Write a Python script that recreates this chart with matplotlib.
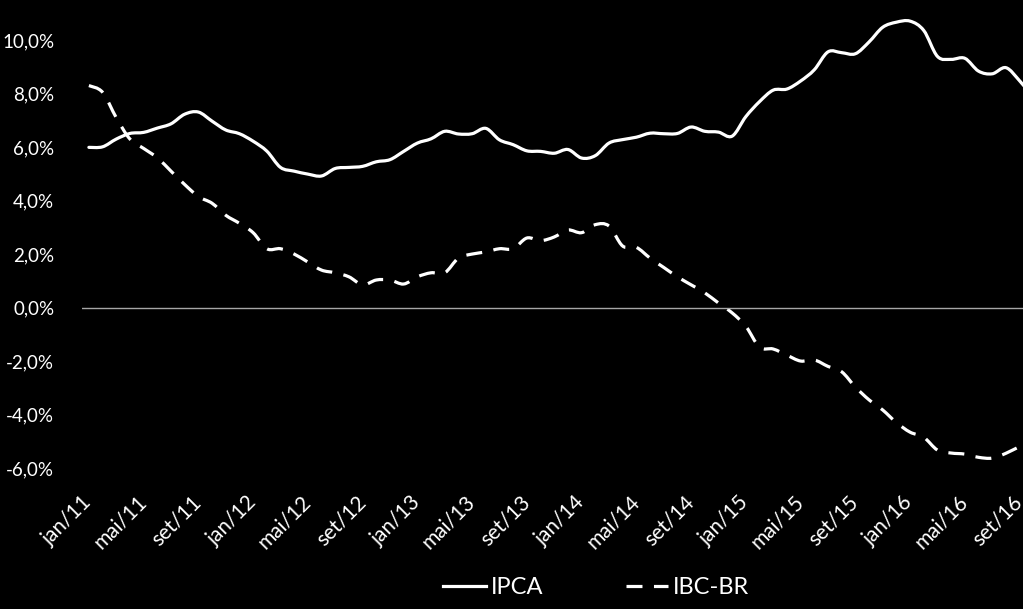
import numpy as np
import matplotlib.pyplot as plt
from matplotlib.path import Path
from matplotlib.patches import PathPatch
from matplotlib.lines import Line2D

# IPCA e IBC-BR, acumulado em 12 meses (%), jan/11 a out/16
meses = ['jan', 'fev', 'mar', 'abr', 'mai', 'jun', 'jul', 'ago', 'set', 'out', 'nov', 'dez']
datas = [f'{m}/{a}' for a in range(11, 17) for m in meses][:70]

ipca = [5.99, 6.01, 6.30, 6.51, 6.55, 6.71, 6.87, 7.23, 7.31, 6.97, 6.64, 6.50,
        6.22, 5.85, 5.24, 5.10, 4.99, 4.92, 5.20, 5.24, 5.28, 5.45, 5.53, 5.84,
        6.15, 6.31, 6.59, 6.49, 6.50, 6.70, 6.27, 6.09, 5.86, 5.84, 5.77, 5.91,
        5.59, 5.68, 6.15, 6.28, 6.37, 6.52, 6.50, 6.51, 6.75, 6.59, 6.56, 6.41,
        7.14, 7.70, 8.13, 8.17, 8.47, 8.89, 9.56, 9.53, 9.49, 9.93, 10.48, 10.67,
        10.71, 10.36, 9.39, 9.28, 9.32, 8.84, 8.74, 8.97, 8.48, 7.87]

ibc_br = [8.3, 8.05, 7.1, 6.3, 5.95, 5.6, 5.1, 4.6, 4.15, 3.9, 3.45, 3.15,
          2.8, 2.2, 2.2, 2.0, 1.7, 1.4, 1.3, 1.15, 0.85, 1.03, 1.03, 0.88,
          1.15, 1.3, 1.3, 1.85, 2.0, 2.08, 2.2, 2.2, 2.6, 2.5, 2.64, 2.9,
          2.8, 3.1, 3.05, 2.3, 2.25, 1.85, 1.5, 1.15, 0.85, 0.55, 0.17, -0.2,
          -0.7, -1.48, -1.55, -1.78, -2.0, -1.96, -2.2, -2.4, -2.97, -3.45, -3.83, -4.3,
          -4.66, -4.85, -5.33, -5.44, -5.48, -5.6, -5.63, -5.45, -5.2, -5.0]

plt.rcParams['font.family'] = ['Lato', 'DejaVu Sans']


def linha_suave(xs, ys):
    # curva suavizada (estilo Excel) passando pelos pontos
    p = np.column_stack([xs, ys]).astype(float)
    n = len(p)
    verts = [p[0]]
    codes = [Path.MOVETO]
    for i in range(n - 1):
        p0 = p[max(i - 1, 0)]
        p1 = p[i]
        p2 = p[i + 1]
        p3 = p[min(i + 2, n - 1)]
        c1 = p1 + (p2 - p0) / 6
        c2 = p2 - (p3 - p1) / 6
        verts += [c1, c2, p2]
        codes += [Path.CURVE4] * 3
    return Path(verts, codes)


x = np.arange(len(datas))

fig = plt.figure(figsize=(10.23, 6.09), dpi=100, facecolor='black')
ax = fig.add_axes([0.0802, 0.2315, 0.9198, 0.7685], facecolor='black')

ax.axhline(0, color='#a6a6a6', linewidth=1.0)
estilo_ibc = (0, (5, 3.6))
ax.add_patch(PathPatch(linha_suave(x, ipca), fill=False, edgecolor='white',
                       linewidth=2.3, capstyle='round'))
ax.add_patch(PathPatch(linha_suave(x, ibc_br), fill=False, edgecolor='white',
                       linewidth=2.3, linestyle=estilo_ibc))

ax.set_xlim(-0.5, 68.25)
ax.set_ylim(-6, 11.5)

ax.set_yticks(np.arange(-6, 11, 2))
ax.set_yticklabels([f'{v:.1f}%'.replace('.', ',') for v in np.arange(-6, 11, 2)])
ax.set_xticks(x[::4])
ax.set_xticklabels(datas[::4])

ax.tick_params(axis='y', colors='white', labelsize=13.5, length=0, pad=20)
ax.tick_params(axis='x', colors='white', labelsize=15, length=0, pad=22)
plt.setp(ax.get_xticklabels(), rotation=45, ha='right', va='center', rotation_mode='anchor')

for s in ax.spines.values():
    s.set_visible(False)

handles = [Line2D([], [], color='white', linewidth=2.3),
           Line2D([], [], color='white', linewidth=2.3, linestyle=estilo_ibc)]
leg = fig.legend(handles, ['IPCA', 'IBC-BR'], loc='center', bbox_to_anchor=(0.583, 0.035),
                 ncol=2, frameon=False, fontsize=17, handlelength=1.8,
                 columnspacing=3.5, handletextpad=0.2)
for t in leg.get_texts():
    t.set_color('white')

plt.savefig('out.png', facecolor='black')
